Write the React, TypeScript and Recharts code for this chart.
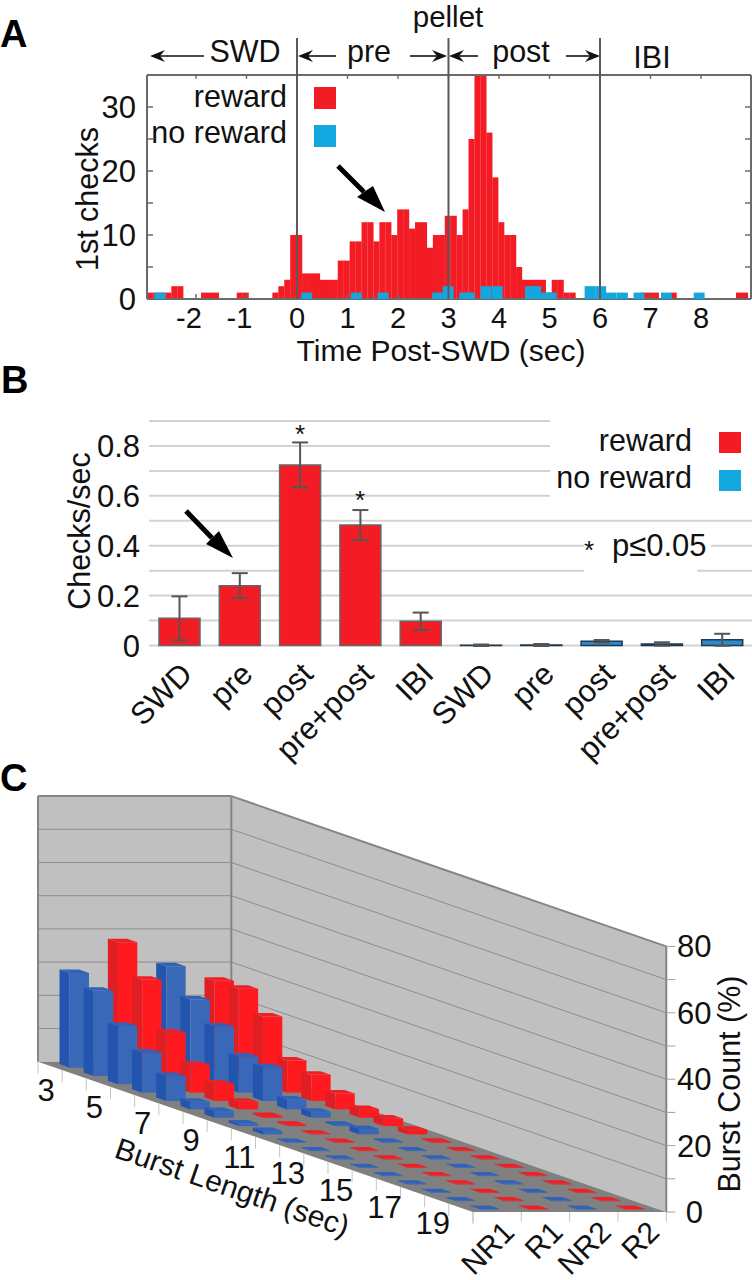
import React from "react";
import {
  BarChart, Bar, XAxis, YAxis, ReferenceLine, ErrorBar, Cell, CartesianGrid,
  ScatterChart, Scatter,
} from "recharts";

const FONT = "'Liberation Sans', Arial, sans-serif";
const RED = "#f41c24";
const CYAN = "#12a7de";
const INK = "#111";
const FRAME = "#6a6a6a";

/* ---------- Panel A ---------- */
const firstChecksReward = [
  1, 1, 1, 1, 2, 2, 0, 0, 0, 1, 1, 1, 0, 0, 0, 1, 1, 0, 0, 0,
  0, 1, 2, 3, 10, 10, 4, 4, 4, 3, 3, 3, 6, 6, 9, 9, 12, 12, 9, 12,
  12, 10, 14, 14, 11, 12, 12, 8, 10, 10, 13, 13, 10, 14, 25, 35, 35, 26, 19, 12,
  10, 10, 5, 3, 3, 3, 3, 1, 3, 3, 1, 1, 0, 0, 0, 0, 0, 0, 0, 0,
  0, 0, 0, 1, 1, 1, 0, 0, 1, 0, 0, 0, 0, 0, 0, 0, 0, 0, 0, 1, 1,
];
const rewardBinStart = -2.96;
const rewardBinWidth = 0.1177;
const noRewardTimes = [
  -2.72, 0.19, 1.17, 1.7, 2.78, 2.99, 3.32, 3.41, 3.74, 3.96, 4.62,
  4.72, 4.93, 5.03, 5.8, 6.01, 6.22, 6.44, 6.77, 7.31, 7.96,
];
const noRewardCounts = [1, 1, 1, 1, 1, 2, 1, 1, 2, 2, 2, 2, 1, 1, 2, 2, 1, 1, 1, 1, 1];
const timeTicks = [-2, -1, 0, 1, 2, 3, 4, 5, 6, 7, 8];
const countTicks = [0, 5, 10, 15, 20, 25, 30];
const countLabels = [0, 10, 20, 30];
const epochEdges = [0, 3, 6];

const rewardHist = firstChecksReward.map((c, k) => ({
  t: rewardBinStart + rewardBinWidth * (k + 0.5),
  c,
}));
const noRewardHist = noRewardTimes.map((t, k) => ({ t, c: noRewardCounts[k] }));

/* ---------- Panel B ---------- */
const epochs = ["SWD", "pre", "post", "pre+post", "IBI"];
const rewardRates = [0.109, 0.24, 0.724, 0.483, 0.097];
const rewardErrors = [0.088, 0.05, 0.09, 0.06, 0.035];
const noRewardRates = [0.001, 0.002, 0.017, 0.006, 0.023];
const noRewardErrors = [0.003, 0.004, 0.005, 0.007, 0.024];
const rateTicks = [0, 0.2, 0.4, 0.6, 0.8];
const rateGrid = [0, 0.1, 0.2, 0.3, 0.4, 0.5, 0.6, 0.7, 0.8, 0.9];

const rateRows = [
  ...epochs.map((name, i) => ({ name, v: rewardRates[i], err: rewardErrors[i], group: "reward" })),
  ...epochs.map((name, i) => ({ name, v: noRewardRates[i], err: noRewardErrors[i], group: "none" })),
];

/* ---------- Panel C ---------- */
const burstNR1 = [28.5, 25.7, 17.6, 12.1, 7.5, 2.3, 2, 0.8, 1, 0.2, 0.2, 0.2, 0.2, 0.2, 0.2, 0.2, 0.2, 0.2];
const burstR1 = [37.8, 29, 15.6, 8.4, 5.3, 2.3, 0.5, 0.4, 0.2, 0.2, 0.2, 0.2, 0.2, 0.2, 0.2, 0.2, 0.2, 0.2];
const burstNR2 = [30.5, 23, 17.4, 10.9, 10.2, 3, 1.8, 0.4, 1.6, 0.3, 0.2, 0.2, 0.2, 0.2, 0.2, 0.2, 0.2, 0.2];
const burstR2 = [26.2, 26.3, 20.4, 9.7, 7.9, 4.8, 2.6, 2.3, 1.4, 0.3, 0.2, 0.2, 0.2, 0.2, 0.2, 0.2, 0.2, 0.2];
const burstTickLabels = ["3", "5", "7", "9", "11", "13", "15", "17", "19"];
const seriesNames = ["NR1", "R1", "NR2", "R2"];
const percentTicks = [0, 20, 40, 60, 80];
const percentGrid = [10, 20, 30, 40, 50, 60, 70];

const PX_V = 48.33; // pixels per series step
const PX_H = 3.32; // pixels per percent
const U_DROP = 2.515; // percent-units of vertical drop per burst step
const skewX = (u: number, v: number) => v + u * 0.5;
const skewY = (u: number, h: number) => h - u * U_DROP;

const barRows = (values: number[], j: number) =>
  values.map((h, i) => ({ x: skewX(i + 0.5, j + 0.5), y: skewY(i + 0.5, 0), h }));

const offset = (cx: number, cy: number, u: number, v: number, h: number) =>
  [cx + (v + 0.5 * u) * PX_V, cy + u * U_DROP * PX_H - h * PX_H] as const;
const pts = (list: ReadonlyArray<readonly [number, number]>) => list.map((p) => p.join(",")).join(" ");

const makeBar3D = (side: string, front: string, top: string) => (props: any) => {
  const { cx, cy, payload } = props;
  if (cx == null || cy == null) return <g />;
  const h = payload.h;
  const du = 0.21;
  const dv = 0.2;
  const P = (u: number, v: number, z: number) => offset(cx, cy, u, v, z);
  return (
    <g>
      <polygon fill={side} points={pts([P(-du, -dv, 0), P(du, -dv, 0), P(du, -dv, h), P(-du, -dv, h)])} />
      <polygon fill={front} points={pts([P(du, -dv, 0), P(du, dv, 0), P(du, dv, h), P(du, -dv, h)])} />
      <polygon fill={top} points={pts([P(-du, -dv, h), P(du, -dv, h), P(du, dv, h), P(-du, dv, h)])} />
    </g>
  );
};

const Walls = (props: any) => {
  const { cx, cy } = props;
  if (cx == null || cy == null) return <g />;
  const P = (u: number, v: number, h: number) => offset(cx, cy, u, v, h);
  const line = (a: readonly [number, number], b: readonly [number, number], k: string, stroke: string, w: number) => (
    <line key={k} x1={a[0]} y1={a[1]} x2={b[0]} y2={b[1]} stroke={stroke} strokeWidth={w} />
  );
  const burstSteps = Array.from({ length: 19 }, (_, k) => k);
  return (
    <g>
      <polygon fill="#c0c0c0" points={pts([P(0, 0, 0), P(0, 4, 0), P(0, 4, 80), P(0, 0, 80)])} />
      <polygon fill="#c0c0c0" points={pts([P(0, 4, 0), P(18, 4, 0), P(18, 4, 80), P(0, 4, 80)])} />
      <polygon fill="#808080" points={pts([P(0, 0, 0), P(18, 0, 0), P(18, 4, 0), P(0, 4, 0)])} />
      {percentGrid.map((h) => line(P(0, 0, h), P(0, 4, h), `l${h}`, "#8c8c8c", 1))}
      {percentGrid.map((h) => line(P(0, 4, h), P(18, 4, h), `r${h}`, "#8c8c8c", 1))}
      {line(P(0, 0, 0), P(0, 0, 80), "e1", "#858585", 2)}
      {line(P(0, 0, 80), P(0, 4, 80), "e2", "#858585", 2)}
      {line(P(0, 4, 0), P(0, 4, 80), "e3", "#858585", 2)}
      {line(P(0, 4, 80), P(18, 4, 80), "e4", "#858585", 2)}
      {line(P(18, 4, 0), P(18, 4, 80), "e5", "#858585", 2)}
      {burstSteps.map((u) => {
        const a = P(u, 0, 0);
        return line(a, [a[0], a[1] + 12], `tu${u}`, "#c4c4c4", 1);
      })}
      {[0, 1, 2, 3, 4].map((v) => {
        const a = P(18, v, 0);
        return line(a, [a[0], a[1] + 10], `tv${v}`, "#c4c4c4", 1);
      })}
      {[0, 10, 20, 30, 40, 50, 60, 70, 80].map((h) => {
        const a = P(18, 4, h);
        return line(a, [a[0] + 9, a[1]], `th${h}`, "#a0a0a0", 1);
      })}
    </g>
  );
};

const BurstTick = (props: any) => {
  const { cx, cy, payload } = props;
  if (cx == null) return <g />;
  return (
    <text x={cx - 4} y={cy + 35} textAnchor="middle" fontFamily={FONT} fontSize={31} fill={INK}>
      {payload.label}
    </text>
  );
};
const SeriesTick = (props: any) => {
  const { cx, cy, payload } = props;
  if (cx == null) return <g />;
  const x = cx + 19;
  const y = cy + 22;
  return (
    <text x={x} y={y} transform={`rotate(-45 ${x} ${y})`} textAnchor="end" fontFamily={FONT} fontSize={30} fill={INK}>
      {payload.label}
    </text>
  );
};
const PercentTick = (props: any) => {
  const { cx, cy, payload } = props;
  if (cx == null) return <g />;
  return (
    <text x={cx + 28} y={cy - payload.h * PX_H + 11} textAnchor="middle" fontFamily={FONT} fontSize={31} fill={INK}>
      {payload.h}
    </text>
  );
};

/* ---------- shared bits ---------- */
const widthBar = (fill: string, w: number) => (props: any) => {
  const { x, y, width, height } = props;
  if (!height) return <g />;
  return <rect x={x + width / 2 - w / 2} y={y} width={w} height={height} fill={fill} />;
};

const hiddenTick = () => <g />;

const CountTick = (props: any) => {
  const { y, payload } = props;
  if (!countLabels.includes(payload.value)) return <g />;
  return (
    <text x={136} y={y + 11} textAnchor="end" fontFamily={FONT} fontSize={31} fill={INK}>
      {payload.value}
    </text>
  );
};
const TimeTick = (props: any) => {
  const { x, payload } = props;
  return (
    <text x={x + (payload.value < 0 ? -7 : 0)} y={328} textAnchor="middle" fontFamily={FONT} fontSize={29} fill={INK}>
      {payload.value}
    </text>
  );
};
const RateTick = (props: any) => {
  const { y, payload } = props;
  return (
    <text x={140} y={y + 11} textAnchor="end" fontFamily={FONT} fontSize={31} fill={INK}>
      {payload.value === 0 ? "0" : payload.value.toFixed(1)}
    </text>
  );
};
const EpochTick = (props: any) => {
  const { x, y, payload } = props;
  const px = x + 15;
  const py = y + 22;
  return (
    <text x={px} y={py} transform={`rotate(-45 ${px} ${py})`} textAnchor="end" fontFamily={FONT} fontSize={31} fill={INK}>
      {payload.value}
    </text>
  );
};

const Label = (p: any) => (
  <text fontFamily={FONT} fontSize={30.5} fill={INK} {...p} />
);

const FatArrow = ({ from, to, wing1, wing2, notch }: any) => (
  <g>
    <line x1={from[0]} y1={from[1]} x2={notch[0]} y2={notch[1]} stroke="#000" strokeWidth={5} />
    <polygon points={pts([to, wing1, notch, wing2])} fill="#000" />
  </g>
);

const ThinArrow = ({ from, to }: any) => {
  const dir = Math.sign(to - from);
  const y = 56;
  return (
    <g>
      <line x1={from} y1={y} x2={to - dir * 6} y2={y} stroke="#111" strokeWidth={1.6} />
      <polygon
        points={pts([[to, y], [to - dir * 15, y - 6], [to - dir * 10, y], [to - dir * 15, y + 6]])}
        fill="#111"
      />
    </g>
  );
};

const abs: React.CSSProperties = { position: "absolute" };

export default function App() {
  return (
    <div style={{ position: "absolute", left: 0, top: 0, width: 752, height: 1280, background: "#fff", overflow: "hidden" }}>
      {/* Panel A: reward histogram with frame */}
      <div style={{ ...abs, left: 0, top: 0 }}>
        <BarChart width={752} height={370} data={rewardHist} margin={{ top: 75, right: 0, bottom: 0, left: 0 }}>
          <XAxis dataKey="t" type="number" domain={[-2.97, 8.99]} ticks={timeTicks} height={71} tick={TimeTick}
            tickSize={-5} axisLine={{ stroke: FRAME, strokeWidth: 2 }} tickLine={{ stroke: FRAME, strokeWidth: 1.5 }} allowDataOverflow />
          <YAxis type="number" domain={[0, 35]} ticks={countTicks} width={147} tick={CountTick} tickSize={-6}
            axisLine={{ stroke: FRAME, strokeWidth: 2 }} tickLine={{ stroke: FRAME, strokeWidth: 1.5 }} allowDataOverflow />
          <YAxis yAxisId="right" orientation="right" type="number" domain={[0, 35]} ticks={countTicks} width={1} tick={hiddenTick} tickSize={-6}
            axisLine={{ stroke: FRAME, strokeWidth: 2 }} tickLine={{ stroke: FRAME, strokeWidth: 1.5 }} allowDataOverflow />
          <Bar dataKey="c" isAnimationActive={false} shape={widthBar(RED, 6.1)} />
        </BarChart>
      </div>
      {/* Panel A: no-reward histogram, top frame and epoch boundaries */}
      <div style={{ ...abs, left: 0, top: 0 }}>
        <BarChart width={752} height={370} data={noRewardHist} margin={{ top: 75, right: 1, bottom: 0, left: 0 }}>
          <XAxis dataKey="t" type="number" domain={[-2.97, 8.99]} height={71} tick={hiddenTick} tickLine={false} axisLine={false} allowDataOverflow />
          <YAxis type="number" domain={[0, 35]} width={147} tick={hiddenTick} tickLine={false} axisLine={false} allowDataOverflow />
          <Bar dataKey="c" isAnimationActive={false} shape={widthBar(CYAN, 10.9)} />
          <ReferenceLine y={35} ifOverflow="visible" stroke={FRAME} strokeWidth={2} />
          {timeTicks.map((t) => (
            <ReferenceLine key={`top${t}`} segment={[{ x: t, y: 34.4 }, { x: t, y: 35 }]} ifOverflow="visible" stroke={FRAME} strokeWidth={1.5} />
          ))}
          {epochEdges.map((t) => (
            <ReferenceLine key={t} segment={[{ x: t, y: 0 }, { x: t, y: 40.8 }]} ifOverflow="visible" stroke="#5a5a5a" strokeWidth={2} />
          ))}
        </BarChart>
      </div>

      {/* Panel B */}
      <div style={{ ...abs, left: 0, top: 370 }}>
        <BarChart width={752} height={400} data={rateRows} margin={{ top: 51, right: 0, bottom: 0, left: 0 }}>
          <CartesianGrid vertical={false} horizontalValues={rateGrid} stroke="#d2d2d2" strokeWidth={2} />
          <XAxis dataKey="name" height={124} tick={EpochTick} tickLine={false} axisLine={false} interval={0} />
          <YAxis type="number" domain={[0, 0.9]} ticks={rateTicks} width={149} tick={RateTick} tickLine={false} axisLine={false} />
          <Bar dataKey="v" barSize={41} isAnimationActive={false} stroke="#5f5f5f" strokeWidth={1.5}>
            {rateRows.map((r, i) => (
              <Cell key={i} fill={r.group === "reward" ? RED : "#2b8cc9"} stroke={r.group === "reward" ? "#666" : "#1d3a55"} />
            ))}
            <ErrorBar dataKey="err" width={8} stroke="#555" strokeWidth={2} direction="y" />
          </Bar>
        </BarChart>
      </div>

      {/* Panel C */}
      <div style={{ ...abs, left: 0, top: 780 }}>
        <ScatterChart width={752} height={500} margin={{ top: 0, right: 0, bottom: 0, left: 0 }}>
          <XAxis type="number" dataKey="x" hide domain={[-38 / PX_V, (752 - 38) / PX_V]} allowDataOverflow />
          <YAxis type="number" dataKey="y" hide domain={[-(1280 - 1061.7) / PX_H, (1061.7 - 780) / PX_H]} allowDataOverflow />
          <Scatter data={[{ x: 0, y: 0 }]} isAnimationActive={false} shape={Walls} />
          <Scatter data={barRows(burstR2, 3)} isAnimationActive={false} shape={makeBar3D("#e01f24", "#ff1a1f", "#ee2025")} />
          <Scatter data={barRows(burstNR2, 2)} isAnimationActive={false} shape={makeBar3D("#2355ae", "#3a68b8", "#2f62b8")} />
          <Scatter data={barRows(burstR1, 1)} isAnimationActive={false} shape={makeBar3D("#e01f24", "#ff1a1f", "#ee2025")} />
          <Scatter data={barRows(burstNR1, 0)} isAnimationActive={false} shape={makeBar3D("#2355ae", "#3a68b8", "#2f62b8")} />
          <Scatter
            data={burstTickLabels.map((label, k) => ({ label, x: skewX(2 * k + 0.5, 0), y: skewY(2 * k + 0.5, 0) }))}
            isAnimationActive={false} shape={BurstTick} />
          <Scatter
            data={seriesNames.map((label, j) => ({ label, x: skewX(18, j + 0.5), y: skewY(18, 0) }))}
            isAnimationActive={false} shape={SeriesTick} />
          <Scatter
            data={percentTicks.map((h) => ({ h, x: skewX(18, 4), y: skewY(18, 0) }))}
            isAnimationActive={false} shape={PercentTick} />
        </ScatterChart>
      </div>

      {/* Annotations */}
      <svg width={752} height={1280} style={{ ...abs, left: 0, top: 0, pointerEvents: "none" }}>
        <rect x={550} y={405} width={202} height={103} fill="#fff" />
        <rect x={584} y={532} width={113} height={44} fill="#fff" />
        <rect x={697} y={532} width={14} height={24} fill="#fff" />

        <text x={0} y={47} fontFamily={FONT} fontWeight={700} fontSize={38} fill="#000">A</text>
        <text x={1} y={393} fontFamily={FONT} fontWeight={700} fontSize={38} fill="#000">B</text>
        <text x={0} y={791} fontFamily={FONT} fontWeight={700} fontSize={38} fill="#000">C</text>

        <Label x={448} y={27} textAnchor="middle" fontSize={29.5}>pellet</Label>
        <Label x={245} y={62} textAnchor="middle">SWD</Label>
        <Label x={369} y={62} textAnchor="middle">pre</Label>
        <Label x={521} y={62} textAnchor="middle">post</Label>
        <Label x={652} y={68} textAnchor="middle">IBI</Label>
        <ThinArrow from={204} to={150} />
        <ThinArrow from={336} to={298} />
        <ThinArrow from={410} to={447} />
        <ThinArrow from={478} to={449} />
        <ThinArrow from={566} to={600} />

        <Label x={287} y={107} textAnchor="end">reward</Label>
        <Label x={287} y={143} textAnchor="end">no reward</Label>
        <rect x={314} y={87} width={22} height={22} fill={RED} />
        <rect x={314} y={125} width={22} height={22} fill={CYAN} />

        <FatArrow from={[338, 166]} to={[385, 212]} wing1={[357, 197]} wing2={[373, 186]} notch={[364, 192]} />

        <Label x={98} y={199} textAnchor="middle" transform="rotate(-90 98 199)">1st checks</Label>
        <Label x={441} y={361} textAnchor="middle" fontSize={30}>Time Post-SWD (sec)</Label>

        <Label x={90} y={531} textAnchor="middle" transform="rotate(-90 90 531)">Checks/sec</Label>
        <Label x={692} y={451} textAnchor="end">reward</Label>
        <Label x={692} y={488} textAnchor="end">no reward</Label>
        <rect x={719} y={432} width={22} height={21} fill={RED} />
        <rect x={719} y={470} width={22} height={21} fill={CYAN} />
        <FatArrow from={[186, 511]} to={[233, 558]} wing1={[206, 544]} wing2={[219, 531]} notch={[212, 538]} />
        <Label x={300} y={443} textAnchor="middle" fontSize={26}>*</Label>
        <Label x={360} y={509} textAnchor="middle" fontSize={26}>*</Label>
        <Label x={589} y={559} textAnchor="middle" fontSize={26}>*</Label>
        <Label x={612} y={556} fontSize={31}>p≤0.05</Label>

        <Label x={740} y={1084} textAnchor="middle" transform="rotate(-90 740 1084)">Burst Count (%)</Label>
        <Label x={229} y={1197} textAnchor="middle" fontSize={30} transform="rotate(19 229 1197)">Burst Length (sec)</Label>
      </svg>
    </div>
  );
}
